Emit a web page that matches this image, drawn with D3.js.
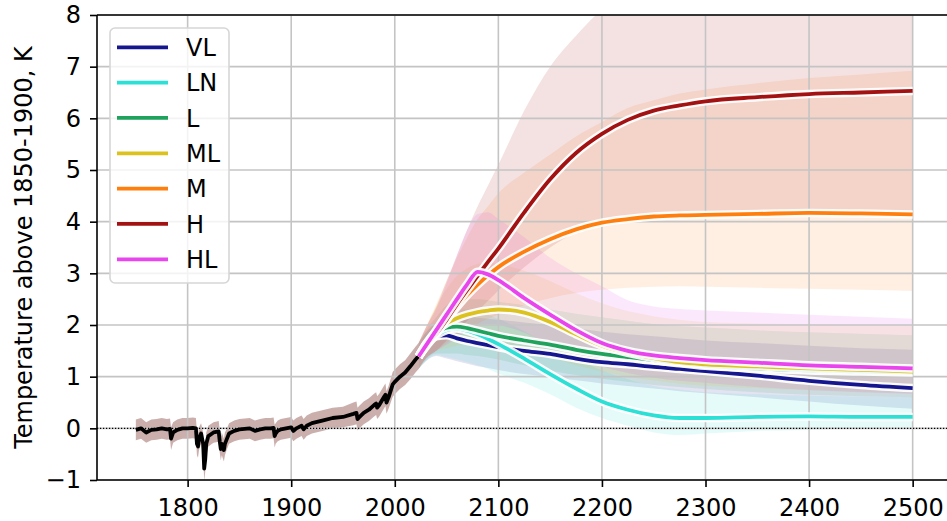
<!DOCTYPE html>
<html>
<head>
<meta charset="utf-8">
<script src="https://cdn.jsdelivr.net/npm/d3@7"></script>
<style>
  body { margin: 0; background: #fff; }
  svg { display: block; font-family: "DejaVu Sans", sans-serif; }
</style>
</head>
<body>
<svg id="chart" width="947" height="521"></svg>
<script>
// ---- observed record (1750-2023) ----
const histYears = [1750,1755,1760,1765,1770,1775,1780,1783,1784,1786,1790,1795,1800,1805,1808,1809,1810,1811,1813,1815,1816,1817,1818,1820,1825,1830,1831,1832,1833,1835,1836,1838,1840,1845,1850,1855,1860,1865,1870,1875,1880,1883,1884,1885,1887,1890,1895,1900,1902,1905,1910,1912,1915,1920,1930,1940,1950,1960,1963,1964,1966,1970,1975,1980,1982,1983,1985,1990,1991,1992,1994,1998,2000,2005,2010,2015,2020,2023];
const histTemp  = [-0.03,0.0,-0.08,-0.03,-0.02,0.0,-0.02,-0.01,-0.2,-0.08,-0.03,0.0,0.0,0.01,0.0,-0.3,-0.35,-0.2,-0.1,-0.3,-0.78,-0.6,-0.3,-0.15,-0.08,-0.06,-0.25,-0.4,-0.3,-0.42,-0.3,-0.2,-0.1,-0.05,-0.02,-0.01,0.0,-0.05,-0.02,0.0,0.0,0.01,-0.15,-0.1,-0.05,-0.02,0.0,0.02,-0.05,0.0,0.05,-0.02,0.05,0.1,0.15,0.2,0.22,0.28,0.3,0.18,0.22,0.3,0.36,0.45,0.48,0.4,0.45,0.62,0.65,0.5,0.6,0.85,0.9,1.0,1.08,1.2,1.33,1.4];
const histSpread = [0.2,0.2,0.2,0.2,0.2,0.2,0.2,0.2,0.22,0.2,0.2,0.2,0.2,0.2,0.2,0.22,0.22,0.22,0.2,0.22,0.24,0.24,0.22,0.2,0.2,0.2,0.22,0.22,0.22,0.22,0.22,0.2,0.2,0.2,0.2,0.2,0.2,0.2,0.2,0.2,0.2,0.2,0.22,0.2,0.2,0.2,0.2,0.2,0.2,0.2,0.2,0.2,0.2,0.2,0.2,0.2,0.2,0.22,0.22,0.22,0.22,0.22,0.22,0.22,0.22,0.22,0.22,0.22,0.22,0.22,0.22,0.24,0.24,0.24,0.24,0.25,0.25,0.25];

// ---- scenario projections (2023-2500) ----
const scenYears = [2023,2030,2040,2050,2060,2070,2080,2090,2100,2125,2150,2175,2200,2225,2250,2275,2300,2350,2400,2450,2500];

const vlMean = [1.39,1.58,1.78,1.8,1.74,1.69,1.65,1.61,1.57,1.5,1.44,1.35,1.28,1.24,1.19,1.15,1.11,1.02,0.92,0.84,0.78];
const lnMean = [1.39,1.6,1.8,1.9,1.93,1.89,1.82,1.73,1.63,1.35,1.05,0.77,0.52,0.36,0.25,0.2,0.2,0.22,0.23,0.22,0.22];
const lMean  = [1.39,1.62,1.85,1.95,1.97,1.94,1.89,1.84,1.79,1.7,1.62,1.52,1.44,1.38,1.32,1.26,1.21,1.16,1.12,1.1,1.08];
const mlMean = [1.39,1.63,1.88,2.03,2.13,2.2,2.25,2.28,2.3,2.24,2.06,1.82,1.6,1.46,1.36,1.28,1.24,1.2,1.16,1.13,1.1];
const mMean  = [1.39,1.6,1.85,2.1,2.35,2.58,2.78,2.96,3.12,3.42,3.66,3.85,3.98,4.05,4.1,4.12,4.13,4.15,4.17,4.16,4.14];
const hMean  = [1.39,1.6,1.83,2.1,2.4,2.68,2.95,3.22,3.48,4.18,4.82,5.33,5.7,5.97,6.15,6.25,6.33,6.41,6.47,6.5,6.53];
const hlMean = [1.39,1.6,1.9,2.2,2.5,2.79,3.03,2.98,2.87,2.52,2.2,1.9,1.65,1.5,1.41,1.36,1.32,1.27,1.22,1.19,1.16];

const vlLow  = [1.15,1.3,1.4,1.35,1.3,1.25,1.2,1.17,1.13,1.05,0.99,0.93,0.87,0.82,0.77,0.72,0.68,0.6,0.52,0.44,0.38];
const vlHigh = [1.65,1.85,2.05,2.2,2.2,2.17,2.14,2.12,2.1,2.05,2.0,1.93,1.87,1.82,1.78,1.74,1.7,1.65,1.6,1.55,1.52];
const lnLow  = [1.15,1.3,1.42,1.38,1.33,1.28,1.22,1.15,1.06,0.88,0.66,0.4,0.2,0.05,-0.08,-0.13,-0.1,-0.05,-0.03,0.0,0.02];
const lnHigh = [1.65,1.85,2.05,2.25,2.3,2.3,2.27,2.2,2.12,1.88,1.6,1.35,1.12,0.95,0.82,0.75,0.7,0.66,0.63,0.61,0.6];
const lLow   = [1.15,1.32,1.45,1.45,1.45,1.42,1.4,1.37,1.33,1.22,1.12,1.03,0.96,0.9,0.84,0.8,0.76,0.7,0.65,0.62,0.6];
const lHigh  = [1.65,1.9,2.15,2.38,2.48,2.5,2.5,2.48,2.45,2.38,2.3,2.22,2.15,2.08,2.02,1.98,1.95,1.9,1.86,1.83,1.8];
const mlLow  = [1.15,1.35,1.5,1.55,1.6,1.62,1.62,1.6,1.58,1.5,1.38,1.22,1.1,1.0,0.93,0.87,0.83,0.78,0.74,0.71,0.68];
const mlHigh = [1.65,1.95,2.35,2.7,2.95,3.1,3.18,3.2,3.18,3.05,2.85,2.62,2.42,2.27,2.17,2.1,2.06,2.03,2.01,2.0,2.0];
const mLow   = [1.15,1.35,1.5,1.65,1.8,1.92,2.02,2.12,2.2,2.38,2.52,2.62,2.68,2.72,2.74,2.75,2.74,2.72,2.7,2.68,2.66];
const mHigh  = [1.65,1.95,2.4,2.85,3.3,3.7,4.05,4.3,4.55,4.95,5.3,5.65,5.93,6.2,6.35,6.48,6.56,6.68,6.78,6.85,6.92];
const hLow   = [1.15,1.35,1.5,1.7,1.9,2.08,2.27,2.47,2.67,3.12,3.5,3.8,4.02,4.12,4.17,4.19,4.2,4.2,4.21,4.2,4.2];
const hHigh  = [1.65,1.95,2.35,2.85,3.35,3.85,4.3,4.7,5.1,6.15,7.0,7.6,8.1,8.4,8.6,8.75,8.85,8.95,9.0,9.05,9.1];
const hlLow  = [1.15,1.35,1.5,1.62,1.75,1.88,1.98,2.02,2.0,1.85,1.62,1.4,1.2,1.07,0.98,0.92,0.88,0.8,0.74,0.7,0.67];
const hlHigh = [1.65,1.95,2.3,2.8,3.35,3.85,4.15,4.18,4.05,3.7,3.3,3.0,2.75,2.48,2.36,2.31,2.28,2.24,2.2,2.16,2.12];

const scenNames  = ["VL","LN","L","ML","M","H","HL"];
const scenColors = ["#16168f","#2ce0d6","#1fa35c","#dcc21e","#ff7f0e","#a31212","#e845ee"];
const scenMeans  = [vlMean, lnMean, lMean, mlMean, mMean, hMean, hlMean];
const scenLows   = [vlLow, lnLow, lLow, mlLow, mLow, hLow, hlLow];
const scenHighs  = [vlHigh, lnHigh, lHigh, mlHigh, mHigh, hHigh, hlHigh];

const xTicks = [1800,1900,2000,2100,2200,2300,2400,2500];
const yTicks = [-1,0,1,2,3,4,5,6,7,8];

// ---- layout ----
const svg = d3.select("#chart");
const plotL = 97, plotR = 951.5, plotT = 15, plotB = 480;
const x = d3.scaleLinear().domain([1712.5, 2537.5]).range([plotL, plotR]);
const y = d3.scaleLinear().domain([-1, 8]).range([plotB, plotT]);
const fontSize = 24;

svg.append("defs").append("clipPath").attr("id", "plotclip")
  .append("rect").attr("x", plotL).attr("y", plotT)
  .attr("width", plotR - plotL).attr("height", plotB - plotT);

const bandLayer = svg.append("g").attr("clip-path", "url(#plotclip)");

// uncertainty ranges of the scenarios
const bandArea = d3.area().x(d => x(d.year)).y0(d => y(d.lo)).y1(d => y(d.hi)).curve(d3.curveMonotoneX);
scenNames.forEach((name, i) => {
  const rows = scenYears.map((yr, k) => ({ year: yr, lo: scenLows[i][k], hi: scenHighs[i][k] }));
  bandLayer.append("path").datum(rows)
    .attr("d", bandArea)
    .attr("fill", scenColors[i])
    .attr("fill-opacity", 0.12);
});

// uncertainty of the observed record
const histRows = histYears.map((yr, k) => ({ year: yr, lo: histTemp[k] - histSpread[k], hi: histTemp[k] + histSpread[k] }));
bandLayer.append("path").datum(histRows)
  .attr("d", d3.area().x(d => x(d.year)).y0(d => y(d.lo)).y1(d => y(d.hi)).curve(d3.curveLinear))
  .attr("fill", "rgb(150,95,90)")
  .attr("fill-opacity", 0.5);

// grid
const grid = svg.append("g");
xTicks.forEach(t => grid.append("line")
  .attr("x1", x(t)).attr("x2", x(t)).attr("y1", plotT).attr("y2", plotB)
  .attr("stroke", "#c4c4c4").attr("stroke-width", 1.6));
yTicks.forEach(t => grid.append("line")
  .attr("x1", plotL).attr("x2", plotR).attr("y1", y(t)).attr("y2", y(t))
  .attr("stroke", "#c4c4c4").attr("stroke-width", 1.6));

// zero reference line
svg.append("line")
  .attr("x1", plotL).attr("x2", plotR).attr("y1", y(0)).attr("y2", y(0))
  .attr("stroke", "#000").attr("stroke-width", 1.1).attr("stroke-dasharray", "1.2,1.8");

const lineLayer = svg.append("g").attr("clip-path", "url(#plotclip)");

// observed record
const histLine = d3.line().x((d, k) => x(histYears[k])).y(d => y(d)).curve(d3.curveLinear);
lineLayer.append("path").datum(histTemp)
  .attr("d", histLine)
  .attr("fill", "none").attr("stroke", "#000").attr("stroke-width", 3.8)
  .attr("stroke-linejoin", "round");

// scenario means with white halo
const meanLine = d3.line().x((d, k) => x(scenYears[k])).y(d => y(d)).curve(d3.curveMonotoneX);
scenNames.forEach((name, i) => {
  const g = lineLayer.append("g");
  g.append("path").datum(scenMeans[i]).attr("d", meanLine)
    .attr("fill", "none").attr("stroke", "#fff").attr("stroke-opacity", 0.92)
    .attr("stroke-width", 8.5).attr("stroke-linejoin", "round");
  g.append("path").datum(scenMeans[i]).attr("d", meanLine)
    .attr("fill", "none").attr("stroke", scenColors[i])
    .attr("stroke-width", 3.8).attr("stroke-linejoin", "round");
});

// axes
const xAxis = d3.axisBottom(x).tickValues(xTicks).tickFormat(d3.format("d")).tickSize(7).tickPadding(12);
const yAxis = d3.axisLeft(y).tickValues(yTicks).tickFormat(d => d < 0 ? "\u2212" + Math.abs(d) : String(d)).tickSize(7).tickPadding(9);

const gx = svg.append("g").attr("transform", `translate(0,${plotB})`).call(xAxis);
const gy = svg.append("g").attr("transform", `translate(${plotL},0)`).call(yAxis);
[gx, gy].forEach(g => {
  g.select(".domain").remove();
  g.selectAll(".tick line").attr("stroke", "#000").attr("stroke-width", 1.6);
  g.selectAll(".tick text").attr("font-size", fontSize).attr("fill", "#000")
    .attr("font-family", "DejaVu Sans, sans-serif");
});

// spines
svg.append("line").attr("x1", plotL).attr("x2", plotL).attr("y1", plotT).attr("y2", plotB)
  .attr("stroke", "#000").attr("stroke-width", 1.6);
svg.append("line").attr("x1", plotL).attr("x2", plotR).attr("y1", plotB).attr("y2", plotB)
  .attr("stroke", "#000").attr("stroke-width", 1.6);
svg.append("line").attr("x1", plotL).attr("x2", plotR).attr("y1", plotT).attr("y2", plotT)
  .attr("stroke", "#000").attr("stroke-width", 1.6);

// y label
svg.append("text")
  .attr("transform", `translate(31.5,${(plotT + plotB) / 2}) rotate(-90)`)
  .attr("text-anchor", "middle")
  .attr("font-size", fontSize)
  .text("Temperature above 1850-1900, K");

// legend
const legend = svg.append("g");
legend.append("rect")
  .attr("x", 110).attr("y", 28).attr("width", 119).attr("height", 255)
  .attr("rx", 5).attr("fill", "#fff").attr("fill-opacity", 0.8)
  .attr("stroke", "#d6d6d6").attr("stroke-width", 1.6);
const rowY = d3.scaleLinear().domain([0, scenNames.length - 1]).range([47.3, 259.3]);
scenNames.forEach((name, i) => {
  legend.append("line")
    .attr("x1", 117).attr("x2", 168).attr("y1", rowY(i)).attr("y2", rowY(i))
    .attr("stroke", scenColors[i]).attr("stroke-width", 3.8);
  legend.append("text")
    .attr("x", 186).attr("y", rowY(i)).attr("dy", "0.36em")
    .attr("font-size", fontSize)
    .text(name);
});
</script>
</body>
</html>
